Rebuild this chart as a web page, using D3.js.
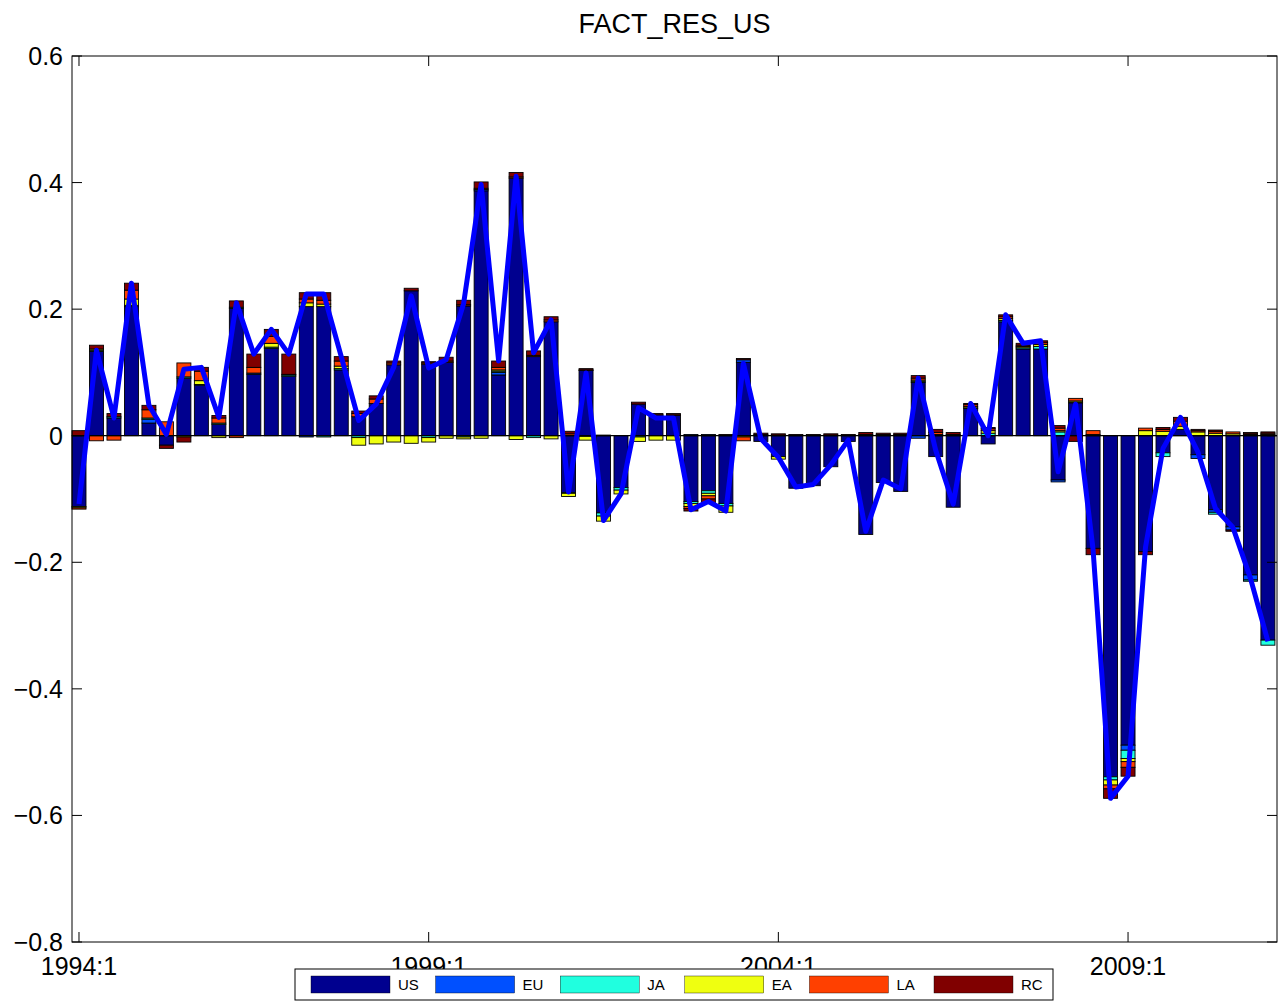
<!DOCTYPE html>
<html>
<head>
<meta charset="utf-8">
<script src="https://cdn.jsdelivr.net/npm/d3@7"></script>
<style>
  body { margin: 0; background: #fff; }
  svg { display: block; }
  text { font-family: "Liberation Sans", Arial, Helvetica, sans-serif; fill: #000; }
</style>
</head>
<body>
<svg id="chart" width="1282" height="1003"></svg>
<script>
// Quarterly contributions to the US residual factor, by region
const seriesNames  = ["US", "EU", "JA", "EA", "LA", "RC"];
const seriesColors = ["#00008F", "#0050FF", "#20FFDF", "#EFFF10", "#FF4000", "#800000"];

const US = [-0.112, 0.133, 0.028, 0.204, 0.020, -0.015, 0.091, 0.080, 0.018, 0.201,
             0.097, 0.138, 0.094, 0.204, 0.204, 0.104, 0.030, 0.051, 0.112, 0.229,
             0.113, 0.116, 0.205, 0.387, 0.096, 0.407, 0.125, 0.180, -0.090, 0.103,
            -0.122, -0.082, 0.050, 0.032, 0.032, -0.104, -0.087, -0.107, 0.116, -0.009,
            -0.033, -0.083, -0.079, -0.049, -0.009, -0.156, -0.074, -0.088, 0.084, -0.033,
            -0.113, 0.043, -0.013, 0.180, 0.137, 0.137, -0.070, 0.052, -0.178, -0.539,
            -0.489, -0.183, -0.027, 0.010, -0.030, -0.117, -0.144, -0.220, -0.323];
const EU = [0, 0, 0, 0, 0.006, 0, 0, 0, 0, 0,
            0.002, 0, 0, -0.002, 0, 0, 0, 0, 0, 0,
            0, 0, 0, 0.002, 0.004, 0, 0, 0, 0, 0,
            0, 0, 0, 0, 0, 0.002, 0.002, 0, 0.004, 0,
            0, 0, 0, 0, 0, 0, 0, 0, -0.004, 0,
            0, 0, 0, 0, 0, 0, -0.003, 0.001, 0, 0,
            -0.008, 0, 0, 0, -0.006, -0.004, -0.005, -0.008, 0];
const JA = [0, 0.002, 0.002, 0.002, 0.002, 0, 0.002, 0.001, 0.002, 0.002,
            0, 0.002, 0.002, 0, -0.002, 0.002, -0.003, 0, 0, 0,
            -0.003, 0, -0.002, 0, 0.002, 0, -0.003, 0, -0.001, -0.001,
            -0.005, -0.004, -0.002, 0, 0, -0.003, -0.004, -0.004, 0, 0,
            0, 0, 0, 0, 0, 0, 0, 0, 0.002, 0,
            0, 0.001, 0.004, 0.002, 0.002, 0.004, 0.006, 0, 0, -0.005,
            -0.013, 0, -0.006, 0, 0, -0.003, 0, -0.002, -0.008];
const EA = [-0.002, 0.002, 0, 0.010, 0, 0, -0.002, 0.006, -0.003, 0,
            0, 0.006, 0, 0.006, 0.004, 0.004, -0.012, -0.013, -0.010, -0.012,
            -0.007, -0.004, -0.003, -0.004, 0.002, -0.006, 0, -0.005, -0.005, -0.006,
            -0.008, -0.006, -0.007, -0.007, -0.007, -0.005, -0.004, -0.010, -0.002, 0,
            -0.004, 0, 0, 0.001, 0, 0, 0, 0, 0.002, 0.002,
            0, 0.002, 0.004, 0.003, 0.002, 0.003, 0.002, 0.002, 0.002, -0.008,
            -0.005, 0.008, 0.007, 0.005, 0.006, 0.004, 0.003, 0.002, 0.002];
const LA = [-0.002, -0.008, -0.007, 0.014, 0.013, 0.022, 0.022, 0.015, 0.008, -0.003,
            0.009, 0.011, 0.001, 0.006, 0.006, 0.008, 0.005, 0.007, 0.003, 0,
            0.002, 0.002, 0.002, 0.002, 0.004, 0.002, 0.002, 0.003, 0.003, 0.001,
            0, 0, 0, 0.001, 0.001, -0.003, -0.005, 0, -0.006, 0.002,
            0.001, 0, 0, 0, 0, 0.002, 0.002, 0.002, 0.003, 0.003,
            0.002, 0.003, 0.003, 0.003, 0.002, 0.003, 0.004, 0.004, 0.006, -0.006,
            -0.009, 0.004, 0.003, 0.008, 0.002, 0.003, 0.003, 0.001, 0.002];
const RC = [0.008, 0.006, 0.005, 0.011, 0.007, -0.005, -0.008, 0.006, 0.004, 0.010,
            0.021, 0.011, 0.032, 0.010, 0.012, 0.007, 0.004, 0.005, 0.003, 0.004,
            0.002, 0.006, 0.007, 0.010, 0.010, 0.007, 0.007, 0.005, 0.004, 0.002,
            0.001, 0, 0.003, 0.002, 0.002, -0.004, -0.006, 0.002, 0.002, 0.002,
            0.002, 0.002, 0.002, 0.002, 0.002, 0.003, 0.002, 0.002, 0.004, 0.005,
            0.003, 0.002, 0.002, 0.003, 0.003, 0.003, 0.004, -0.009, -0.010, -0.015,
            -0.014, -0.005, 0.003, 0.006, 0.002, 0.002, -0.002, 0.002, 0.002];

const seriesValues = [US, EU, JA, EA, LA, RC];

// Quarter labels, 1994:1 onward, one per observation
const periods = US.map((_, i) => `${1994 + Math.floor(i / 4)}:${(i % 4) + 1}`);

const xTickLabels = ["1994:1", "1999:1", "2004:1", "2009:1"];
const yTickValues = [-0.8, -0.6, -0.4, -0.2, 0, 0.2, 0.4, 0.6];

// Rows for d3.stack: one object per quarter
const rows = periods.map((p, i) => {
  const r = { period: p, idx: i + 1 };
  seriesNames.forEach((s, k) => { r[s] = seriesValues[k][i]; });
  return r;
});
const totals = rows.map(r => d3.sum(seriesNames, s => r[s]));

// Layout
const plot = { left: 72, right: 1277, top: 56, bottom: 942 };
const svg = d3.select("#chart");

const x = d3.scaleLinear().domain([0.6, 69.52]).range([plot.left, plot.right]);
const y = d3.scaleLinear().domain([-0.8, 0.6]).range([plot.bottom, plot.top]);
const color = d3.scaleOrdinal().domain(seriesNames).range(seriesColors);
const barW = 0.8 * (x(2) - x(1));

const stacked = d3.stack()
  .keys(seriesNames)
  .order(d3.stackOrderNone)
  .offset(d3.stackOffsetDiverging)(rows);

// Title
svg.append("text")
  .attr("x", (plot.left + plot.right) / 2)
  .attr("y", 33)
  .attr("text-anchor", "middle")
  .style("font-size", "27px")
  .text("FACT_RES_US");

// Stacked bars
const g = svg.append("g");
g.selectAll("g.layer")
  .data(stacked)
  .join("g")
  .attr("class", "layer")
  .attr("fill", d => color(d.key))
  .selectAll("rect")
  .data(d => d.filter(v => v[1] - v[0] !== 0))
  .join("rect")
  .attr("x", d => x(d.data.idx) - barW / 2)
  .attr("width", barW)
  .attr("y", d => y(Math.max(d[0], d[1])))
  .attr("height", d => Math.abs(y(d[0]) - y(d[1])))
  .attr("stroke", "#000")
  .attr("stroke-width", 0.9);

// Baseline at zero
svg.append("line")
  .attr("x1", plot.left).attr("x2", plot.right)
  .attr("y1", y(0)).attr("y2", y(0))
  .attr("stroke", "#000").attr("stroke-width", 1.2);

// Total line
svg.append("path")
  .datum(totals)
  .attr("fill", "none")
  .attr("stroke", "#0000FF")
  .attr("stroke-width", 5)
  .attr("stroke-linejoin", "round")
  .attr("d", d3.line().x((d, i) => x(i + 1)).y(d => y(d)));

// Axes box with inward ticks
const tickLen = 10;
const axisG = svg.append("g").attr("stroke", "#000").attr("stroke-width", 1);
axisG.append("rect")
  .attr("x", plot.left).attr("y", plot.top)
  .attr("width", plot.right - plot.left).attr("height", plot.bottom - plot.top)
  .attr("fill", "none");

yTickValues.forEach(v => {
  axisG.append("line").attr("x1", plot.left).attr("x2", plot.left + tickLen)
    .attr("y1", y(v)).attr("y2", y(v));
  axisG.append("line").attr("x1", plot.right).attr("x2", plot.right - tickLen)
    .attr("y1", y(v)).attr("y2", y(v));
});

const xTickIdx = xTickLabels.map(l => periods.indexOf(l) + 1);
xTickIdx.forEach(i => {
  axisG.append("line").attr("x1", x(i)).attr("x2", x(i))
    .attr("y1", plot.bottom).attr("y2", plot.bottom - tickLen);
  axisG.append("line").attr("x1", x(i)).attr("x2", x(i))
    .attr("y1", plot.top).attr("y2", plot.top + tickLen);
});

// Tick labels
svg.append("g").selectAll("text")
  .data(yTickValues)
  .join("text")
  .attr("x", plot.left - 9)
  .attr("y", d => y(d))
  .attr("dy", "0.36em")
  .attr("text-anchor", "end")
  .style("font-size", "25px")
  .text(d => d === 0 ? "0" : d3.format(".1f")(d).replace("-", "\u2212"));

svg.append("g").selectAll("text")
  .data(xTickLabels)
  .join("text")
  .attr("x", (d, k) => x(xTickIdx[k]))
  .attr("y", 975)
  .attr("text-anchor", "middle")
  .style("font-size", "25px")
  .text(d => d);

// Legend (its white box sits over the lower part of the date labels)
const legend = { left: 295, top: 969, width: 758, height: 31 };
const lg = svg.append("g");
lg.append("rect")
  .attr("x", legend.left).attr("y", legend.top)
  .attr("width", legend.width).attr("height", legend.height)
  .attr("fill", "#fff").attr("stroke", "#000").attr("stroke-width", 1);

const itemStep = 124.6;
const item = lg.selectAll("g.item")
  .data(seriesNames)
  .join("g")
  .attr("class", "item")
  .attr("transform", (d, k) => `translate(${legend.left + 16 + k * itemStep},${legend.top})`);
item.append("rect")
  .attr("x", 0).attr("y", 7)
  .attr("width", 79).attr("height", 17)
  .attr("fill", d => color(d))
  .attr("stroke", "#000").attr("stroke-width", 0.4);
item.append("text")
  .attr("x", 87).attr("y", 21)
  .style("font-size", "15px")
  .text(d => d);
</script>
</body>
</html>
